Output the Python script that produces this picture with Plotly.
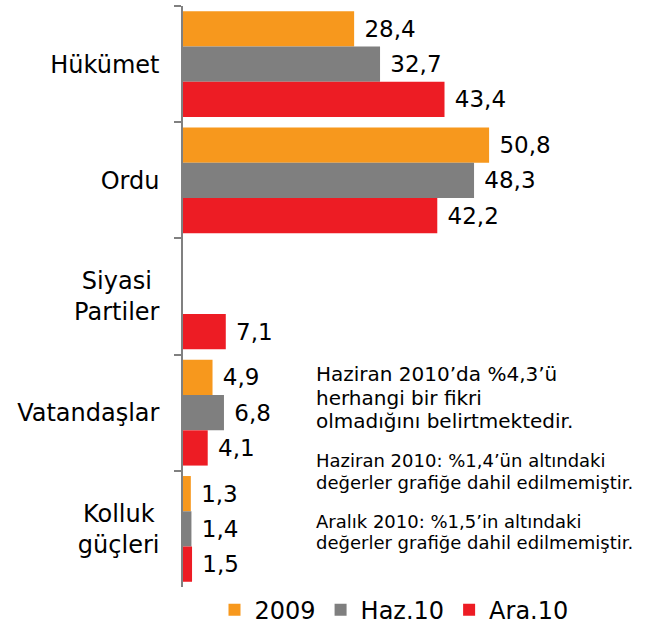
import plotly.graph_objects as go

categories = ["Hükümet", "Ordu", "Siyasi\u00a0<br>Partiler", "Vatandaşlar", "Kolluk\u2009<br>güçleri"]
series_names = ["2009", "Haz.10", "Ara.10"]
values_2009 = [28.4, 50.8, None, 4.9, 1.3]
values_haz10 = [32.7, 48.3, None, 6.8, 1.4]
values_ara10 = [43.4, 42.2, 7.1, 4.1, 1.5]
colors = ["#F7981D", "#7F7F7F", "#ED1C24"]

note_lines = [
    ("Haziran 2010’da %4,3’ü", 20, 373.5),
    ("herhangi bir fikri", 20, 397.5),
    ("olmadığını belirtmektedir.", 20, 421),
    ("Haziran 2010: %1,4’ün altındaki", 18, 460.5),
    ("değerler grafiğe dahil edilmemiştir.", 18, 482),
    ("Aralık 2010: %1,5’in altındaki", 18, 521.5),
    ("değerler grafiğe dahil edilmemiştir.", 18, 542),
]

W, H = 661, 627
L, R, T, B = 183, 8, 6, 40
plot_h = H - T - B
plot_w = W - L - R

fig = go.Figure()
for name, vals, col in zip(series_names, [values_2009, values_haz10, values_ara10], colors):
    fig.add_trace(go.Bar(
        y=categories, x=vals, name=name, orientation="h",
        marker=dict(color=col, line=dict(width=0)),
        texttemplate=" %{x:.1f}", textposition="outside",
        textfont=dict(family="DejaVu Sans", size=23, color="#000000"),
        cliponaxis=False,
    ))

annotations = []
for txt, size, ypx in note_lines:
    annotations.append(dict(
        text=txt, xref="paper", yref="paper",
        x=(314 - L) / plot_w, y=(H - B - ypx) / plot_h,
        xanchor="left", yanchor="middle", showarrow=False,
        font=dict(family="DejaVu Sans", size=size, color="#000000"),
    ))

fig.update_layout(
    width=W, height=H,
    margin=dict(l=L, r=R, t=T, b=B, autoexpand=False),
    paper_bgcolor="white", plot_bgcolor="white",
    barmode="group", bargap=0.09, bargroupgap=0,
    separators=", ",
    font=dict(family="DejaVu Sans", color="#000000"),
    xaxis=dict(range=[0, 78], visible=False, showgrid=False, zeroline=False, automargin=False),
    yaxis=dict(
        autorange="reversed", showline=True, linecolor="#808080", linewidth=1.5,
        ticks="outside", tickson="boundaries", ticklen=7, tickcolor="#808080",
        tickwidth=1.5, showgrid=False, ticklabelstandoff=17, automargin=False,
        tickfont=dict(family="DejaVu Sans", size=24, color="#000000"),
    ),
    legend=dict(
        orientation="h", x=(394 - L) / plot_w, xanchor="center", y=-0.04, yanchor="middle",
        font=dict(family="DejaVu Sans", size=24, color="#000000"),
        itemwidth=30, tracegroupgap=0,
    ),
    annotations=annotations,
    showlegend=True,
)

fig.write_html("out.html", config={"displayModeBar": False},
               post_script="document.body.style.margin='0';")
